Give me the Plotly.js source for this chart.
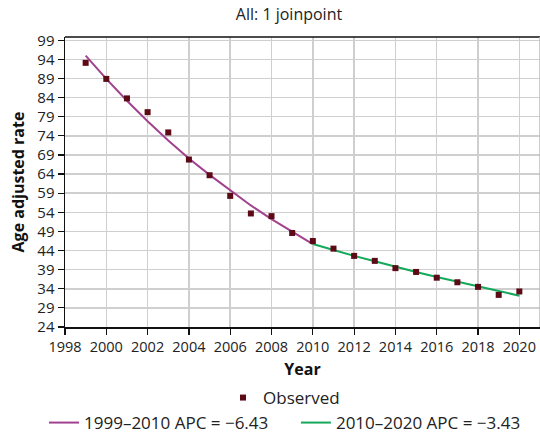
<!DOCTYPE html>
<html>
<head>
<meta charset="utf-8">
<script src="https://cdn.plot.ly/plotly-3.0.1.min.js"></script>
<style>html,body{margin:0;padding:0;background:#fff;}#chart{width:540px;height:438px;}</style>
</head>
<body>
<div id="chart"></div>
<script>
const years = [1999,2000,2001,2002,2003,2004,2005,2006,2007,2008,2009,2010,2011,2012,2013,2014,2015,2016,2017,2018,2019,2020];
const observed = [93.1,88.9,83.8,80.2,74.9,67.8,63.7,58.3,53.7,53.0,48.6,46.5,44.5,42.6,41.3,39.4,38.4,36.9,35.7,34.5,32.4,33.3];
const seg1Years = [1999,2000,2001,2002,2003,2004,2005,2006,2007,2008,2009,2010];
const seg1Fit = [95.0,88.9,83.2,77.8,72.8,68.1,63.8,59.7,55.8,52.2,48.9,45.7];
const seg2Years = [2010,2011,2012,2013,2014,2015,2016,2017,2018,2019,2020];
const seg2Fit = [45.7,44.1,42.6,41.2,39.7,38.4,37.1,35.8,34.6,33.4,32.2];
const xTicks = [1998,2000,2002,2004,2006,2008,2010,2012,2014,2016,2018,2020];
const yTicks = [24,29,34,39,44,49,54,59,64,69,74,79,84,89,94,99];
const labels = {obs:'Observed', s1:'1999–2010 APC = −6.43', s2:'2010–2020 APC = −3.43'};

const FONT = 'Open Sans, Noto Sans, sans-serif';
const traces = [
  {x: seg1Years, y: seg1Fit, type:'scatter', mode:'lines', name: labels.s1,
   line:{color:'#a1428f', width:2}, legend:'legend2'},
  {x: seg2Years, y: seg2Fit, type:'scatter', mode:'lines', name: labels.s2,
   line:{color:'#13a85a', width:2}, legend:'legend3'},
  {x: years, y: observed, type:'scatter', mode:'markers', name: labels.obs,
   marker:{symbol:'square', size:6, color:'#5c0a16'}, legend:'legend'}
];

const legBase = {orientation:'h', xref:'container', yref:'container', xanchor:'left', yanchor:'middle',
  font:{size:17, color:'#222'}, bgcolor:'rgba(0,0,0,0)', itemwidth:30};

const layout = {
  width:540, height:438,
  margin:{l:65, r:0, t:37, b:111, pad:0, autoexpand:false},
  paper_bgcolor:'#fff', plot_bgcolor:'#fff',
  font:{family:FONT, size:14, color:'#222'},
  title:{text:'All: 1 joinpoint', font:{size:16, color:'#222'}, x:0.4716, xref:'paper', xanchor:'center', y:0.967, yref:'container', yanchor:'middle'},
  xaxis:{range:[1998,2021], tickvals:xTicks, ticktext:xTicks.map(String),
    showgrid:true, gridcolor:'#cfcfcf', gridwidth:1.5,
    showline:true, linecolor:'#111', linewidth:1.5, mirror:false,
    ticks:'outside', ticklen:6, tickcolor:'#111', tickwidth:1.2,
    tickfont:{size:14.5, color:'#222'}, zeroline:false,
    title:{text:'<b>Year</b>', font:{size:16, color:'#111'}, standoff:16}},
  yaxis:{range:[24,99.86], tickvals:yTicks, ticktext:yTicks.map(String),
    showgrid:true, gridcolor:'#cfcfcf', gridwidth:1.5,
    showline:true, linecolor:'#111', linewidth:1.5,
    ticks:'outside', ticklen:6, tickcolor:'#111', tickwidth:1.2,
    tickfont:{size:15, color:'#222'}, zeroline:false,
    title:{text:'<b>Age adjusted rate</b>', font:{size:16, color:'#111'}, standoff:8}},
  shapes:[
    {type:'line', xref:'paper', yref:'paper', x0:0, x1:1, y0:1, y1:1, line:{color:'#111', width:1.5}},
    {type:'line', xref:'paper', yref:'paper', x0:1, x1:1, y0:0, y1:1, line:{color:'#bbb', width:1.5}}
  ],
  legend:Object.assign({}, legBase, {x:0.413, y:0.0913}),
  legend2:Object.assign({}, legBase, {x:0.0815, y:0.0342}),
  legend3:Object.assign({}, legBase, {x:0.548, y:0.0342}),
  showlegend:true
};

Plotly.newPlot('chart', traces, layout, {displayModeBar:false, staticPlot:true});
</script>
</body>
</html>
